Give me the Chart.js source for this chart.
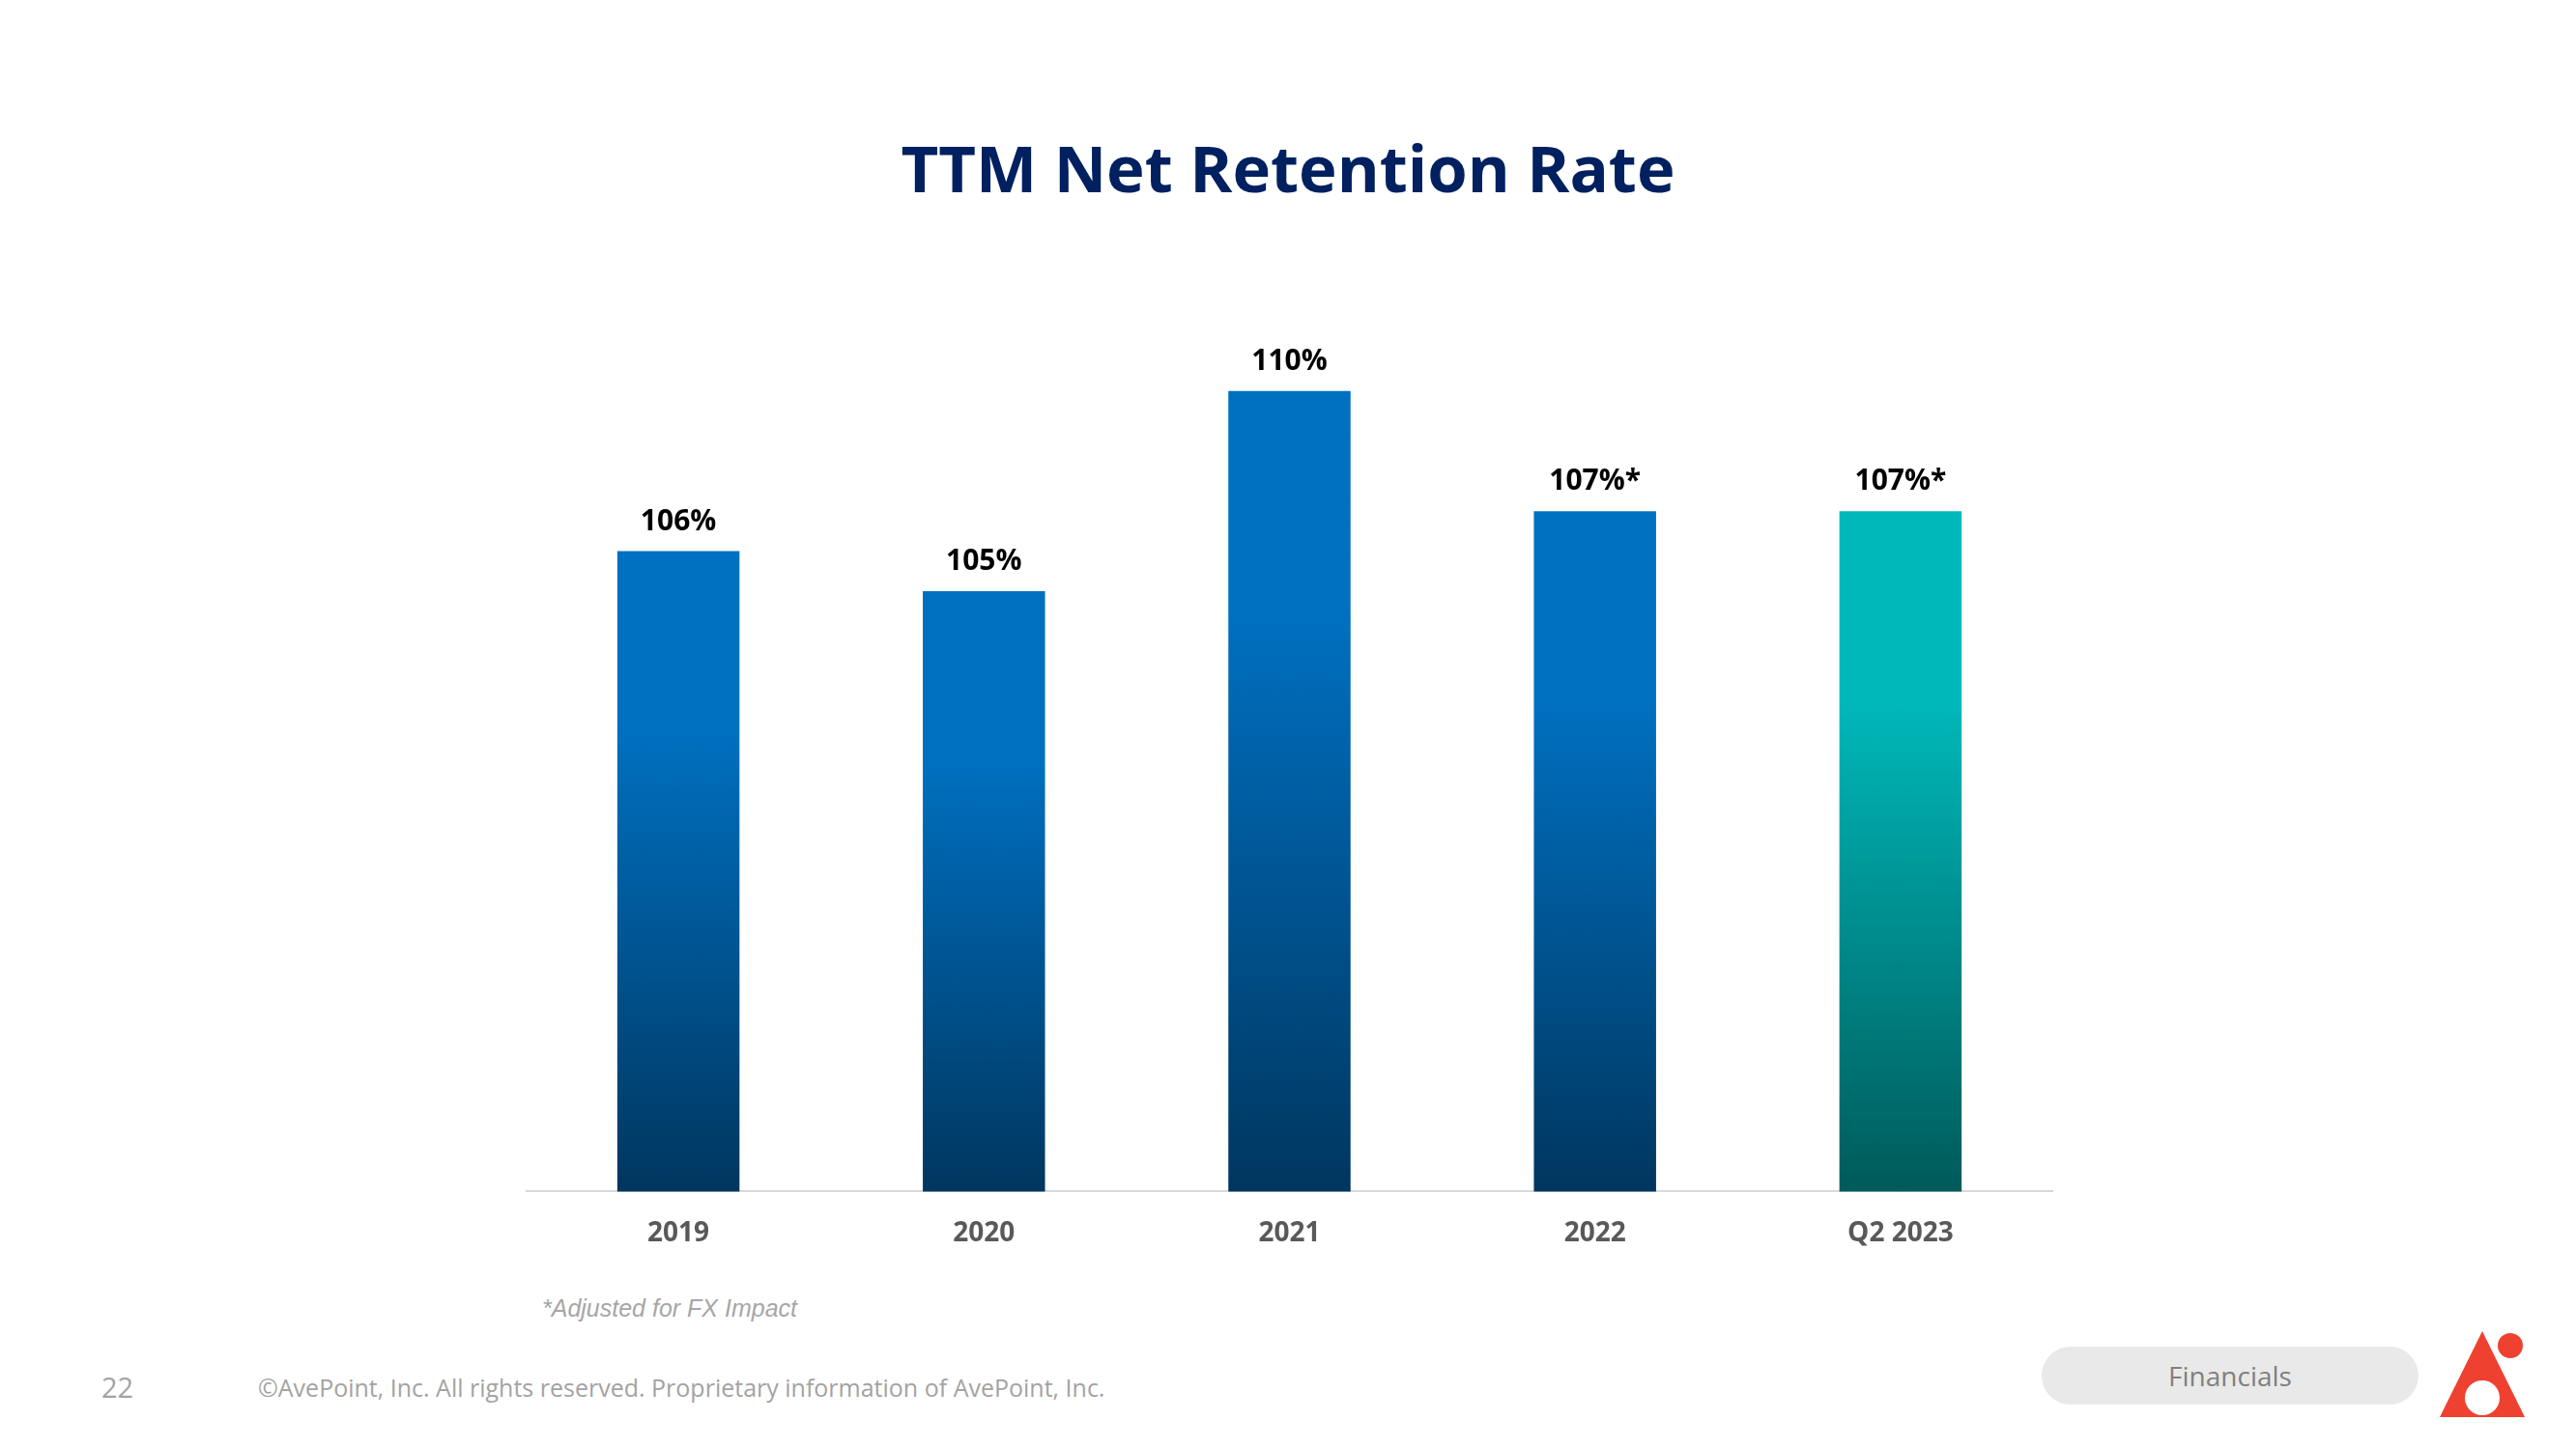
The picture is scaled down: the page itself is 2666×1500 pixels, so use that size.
<!DOCTYPE html>
<html lang="en">
<head>
  <meta charset="UTF-8" />
  <title>TTM Net Retention Rate</title>
  <script src="https://cdn.jsdelivr.net/npm/chart.js"></script>
  <style>
    html, body {
      margin: 0;
      padding: 0;
      background: #fff;
      width: 2666px;
      height: 1500px;
      overflow: hidden;
      font-family: 'Open Sans', sans-serif;
    }
    .title {
      position: absolute;
      left: 0;
      width: 2666px;
      top: 128px;
      text-align: center;
      font-size: 67px;
      font-weight: bold;
      color: #002060;
      line-height: 90px;
    }
    .chart-box {
      position: absolute;
      left: 544px;
      top: 322px;
      width: 1581px;
      height: 999px;
    }
    .note {
      position: absolute;
      left: 561px;
      top: 1340px;
      font-family: 'Liberation Sans', Arial, sans-serif;
      font-style: italic;
      font-size: 25px;
      color: #a6a6a6;
    }
    .page {
      position: absolute;
      left: 105px;
      top: 1416px;
      font-size: 29px;
      color: #a3a3a3;
    }
    .copy {
      position: absolute;
      left: 267px;
      top: 1419px;
      font-size: 25px;
      color: #a3a3a3;
    }
    .pill {
      position: absolute;
      left: 2113px;
      top: 1394px;
      width: 390px;
      height: 60px;
      border-radius: 30px;
      background: #e9e9e9;
      color: #808080;
      font-size: 28px;
      line-height: 60px;
      text-align: center;
    }
    .logo {
      position: absolute;
      left: 2520px;
      top: 1370px;
    }
  </style>
</head>
<body>
  <div class="title">TTM Net Retention Rate</div>
  <div class="chart-box"><canvas id="nrrChart"></canvas></div>
  <div class="note">*Adjusted for FX Impact</div>
  <div class="page">22</div>
  <div class="copy">©AvePoint, Inc. All rights reserved. Proprietary information of AvePoint, Inc.</div>
  <div class="pill">Financials</div>
  <svg class="logo" width="110" height="110" viewBox="0 0 110 110">
    <defs>
      <mask id="cut">
        <rect x="0" y="0" width="110" height="110" fill="#fff" />
        <circle cx="49" cy="77" r="18" fill="#000" />
      </mask>
    </defs>
    <polygon points="49,8 5,97 93,97" fill="#ef4130" mask="url(#cut)" />
    <circle cx="78" cy="23" r="13" fill="#ef4130" />
  </svg>

  <script>
    const categories = ["2019", "2020", "2021", "2022", "Q2 2023"];
    const retention = [106, 105, 110, 107, 107];
    const valueLabels = ["106%", "105%", "110%", "107%*", "107%*"];
    const barTop = ["#0070c0", "#0070c0", "#0070c0", "#0070c0", "#00b8ba"];
    const barBottom = ["#00365f", "#00365f", "#00365f", "#00365f", "#005a5a"];

    // each bar gets its own gradient: flat colour on top, darker towards the axis
    function barFill(ctx) {
      const chart = ctx.chart;
      const i = ctx.dataIndex;
      if (!chart.chartArea || ctx.type !== "data") return barTop[i];
      const y = chart.scales.y;
      const top = y.getPixelForValue(ctx.raw);
      const bottom = y.getPixelForValue(y.min);
      const g = chart.ctx.createLinearGradient(0, top, 0, bottom);
      g.addColorStop(0, barTop[i]);
      g.addColorStop(0.28, barTop[i]);
      g.addColorStop(1, barBottom[i]);
      return g;
    }

    const valueLabelPlugin = {
      id: "valueLabels",
      afterDatasetsDraw(chart) {
        const ctx = chart.ctx;
        const meta = chart.getDatasetMeta(0);
        ctx.save();
        ctx.font = "bold 30px 'Open Sans'";
        ctx.fillStyle = "#000";
        ctx.textAlign = "center";
        ctx.textBaseline = "alphabetic";
        meta.data.forEach((bar, i) => {
          ctx.fillText(valueLabels[i], bar.x, bar.y - 22);
        });
        ctx.restore();
      }
    };

    new Chart(document.getElementById("nrrChart"), {
      type: "bar",
      data: {
        labels: categories,
        datasets: [{
          data: retention,
          backgroundColor: barFill,
          borderWidth: 0,
          categoryPercentage: 1,
          barPercentage: 0.4
        }]
      },
      options: {
        responsive: true,
        maintainAspectRatio: false,
        animation: false,
        layout: { padding: 0 },
        plugins: {
          legend: { display: false },
          tooltip: { enabled: false }
        },
        scales: {
          x: {
            grid: { display: false, drawTicks: false },
            border: { display: true, color: "#d9d9d9", width: 2 },
            ticks: {
              color: "#595959",
              padding: 27,
              font: { family: "'Open Sans'", size: 28, weight: "bold" }
            }
          },
          y: {
            display: false,
            min: 90,
            max: 112
          }
        }
      },
      plugins: [valueLabelPlugin]
    });
  </script>
</body>
</html>
